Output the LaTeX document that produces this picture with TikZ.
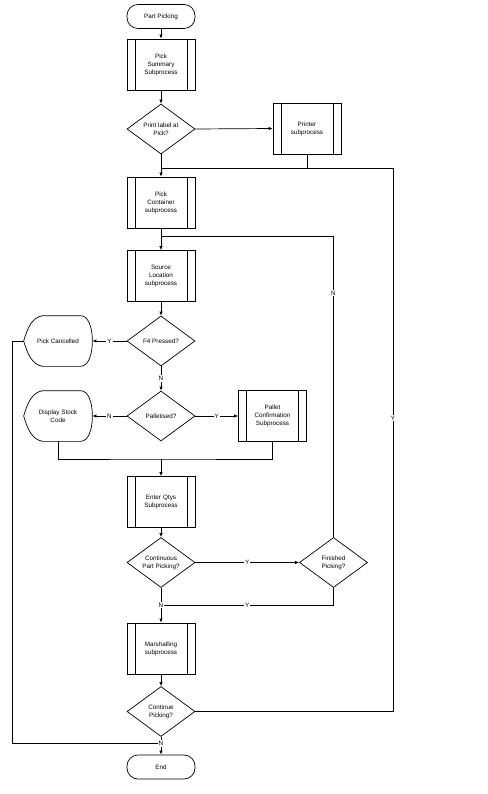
\documentclass[tikz,border=0pt]{standalone}
\usepackage{fontspec}
\setmainfont{Liberation Sans}
\usetikzlibrary{arrows.meta}
\usetikzlibrary{shapes.geometric}
\usetikzlibrary{positioning}

\tikzset{
	base/.style={draw, line width=0.7pt, align=center, inner sep=1pt, font=\fontsize{6.3}{8}\selectfont},
	term/.style={base, rounded corners=11pt, minimum width=68pt, minimum height=24pt},
	subproc/.style={base, minimum width=68pt, minimum height=51pt, text width=46pt,
		path picture={\draw[line width=0.7pt]
			([xshift=8pt]path picture bounding box.north west) -- ([xshift=8pt]path picture bounding box.south west)
			([xshift=-8pt]path picture bounding box.north east) -- ([xshift=-8pt]path picture bounding box.south east);}},
	decision/.style={base, diamond, aspect=1.36, minimum width=68pt, minimum height=50pt, inner sep=0pt},
	dispbox/.style={base, draw=none, minimum width=68pt, minimum height=50pt},
	lbl/.style={fill=white, inner sep=1pt, font=\fontsize{6.3}{7}\selectfont},
	flow/.style={line width=0.7pt, -{Latex[length=4pt,width=3.5pt]}},
	link/.style={line width=0.7pt}
}

\begin{document}
\begin{tikzpicture}[x=1pt,y=-1pt]
		\useasboundingbox (0,0) rectangle (487,794);
		% main column
		\node[term] (start) at (161,16.5) {Part Picking};
		\node[subproc] (summary) at (161,64.5) {Pick\\Summary\\Subprocess};
		\node[decision] (print) at (161,129) {Print label at\\Pick?};
		\node[subproc] (printer) at (307,128.5) {Printer\\subprocess};
		\node[subproc] (pcont) at (161,202.5) {Pick\\Container\\subprocess};
		\node[subproc] (source) at (161,276) {Source\\Location\\subprocess};
		\node[decision] (f4) at (161,341) {F4 Pressed?};
		\node[dispbox] (cancel) at (58,341) {Pick Cancelled};
		\node[decision] (pal) at (161,416) {Palletised?};
		\node[dispbox] (stock) at (58,416) {Display Stock\\Code};
		\node[subproc] (pallet) at (272.5,416) {Pallet\\Confirmation\\Subprocess};
		\node[subproc] (enter) at (161,502) {Enter Qtys\\Subprocess};
		\node[decision] (cpp) at (161,562.5) {Continuous\\Part Picking?};
		\node[decision] (fin) at (333.5,562.5) {Finished\\Picking?};
		\node[subproc] (marsh) at (161,648.5) {Marshalling\\subprocess};
		\node[decision] (contp) at (161,711.5) {Continue\\Picking?};
		\node[term] (end) at (161,767) {End};
		
		% joins
		\coordinate (jA) at (161,168);
		\coordinate (rA) at (393,168);
		\coordinate (jB) at (161,236);
		\coordinate (jC) at (161,459);
		\coordinate (jD) at (161,605);
		\coordinate (jE) at (161,743.5);
		\coordinate (lE) at (12,341);
		
		% display shapes
		\foreach \n in {cancel,stock}
		\draw[link] (\n.west) .. controls +(4,-13) and +(-11,2) .. ([xshift=19pt]\n.north west)
			-- ([xshift=-12pt]\n.north east) .. controls +(8,0) and +(0,-14) .. (\n.east)
			.. controls +(0,14) and +(8,0) .. ([xshift=-12pt]\n.south east)
			-- ([xshift=19pt]\n.south west) .. controls +(-11,-2) and +(4,13) .. (\n.west);
		
		\foreach \from/\to in
		{start/summary, summary/print, print/pcont, pcont/source, source/f4, enter/cpp, marsh/contp}
		\draw[flow] (\from) -- (\to);
		
		\draw[flow] (print.east) -- (printer.west);
		\draw[link] (printer.south) -- (printer.south |- jA);
		\draw[link] (contp.east) -| node[lbl, pos=0.77]{Y} (rA) -- (jA);
		\draw[link] (fin.north) -- node[lbl, pos=0.81]{N} (fin.north |- jB) -- (jB);
		\draw[flow] (f4.west) -- node[lbl]{Y} (cancel.east);
		\draw[flow] (f4.south) -- node[lbl]{N} (pal.north);
		\draw[flow] (pal.west) -- node[lbl]{N} (stock.east);
		\draw[flow] (pal.east) -- node[lbl]{Y} (pallet.west);
		\draw[link] (stock.south) |- (jC) -| (pallet.south);
		\draw[flow] (jC) -- (enter.north);
		\draw[flow] (cpp.east) -- node[lbl]{Y} (fin.west);
		\draw[link] (fin.south) |- node[lbl, pos=0.75]{Y} (jD);
		\draw[link] (cpp.south) -- (jD);
		\draw[flow] (jD) -- (marsh.north);
		\node[lbl] at (jD) {N};
		\draw[link] (cancel.west) -- (lE) |- (jE);
		\draw[flow] (contp.south) -- (end.north);
		\node[lbl] at (jE) {N};
\end{tikzpicture}
\end{document}
